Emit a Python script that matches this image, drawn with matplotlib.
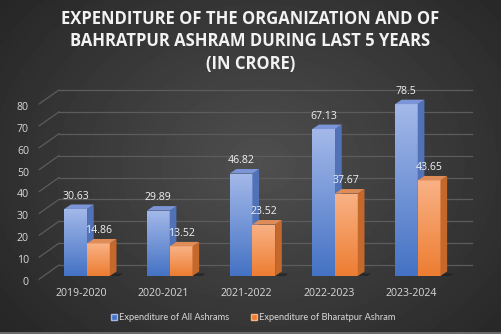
import matplotlib.pyplot as plt
import numpy as np
from matplotlib.colors import LinearSegmentedColormap
from matplotlib.lines import Line2D
from matplotlib.patches import Polygon
from matplotlib.transforms import ScaledTranslation

plt.rcParams["font.family"] = ["Open Sans", "DejaVu Sans"]

YEARS = ["2019-2020", "2020-2021", "2021-2022", "2022-2023", "2023-2024"]
ALL_ASHRAMS = [30.63, 29.89, 46.82, 67.13, 78.5]
BHARATPUR = [14.86, 13.52, 23.52, 37.67, 43.65]
SERIES_NAMES = ["Expenditure of All Ashrams", "Expenditure of Bharatpur Ashram"]
TITLE_LINES = [
    "EXPENDITURE OF THE ORGANIZATION AND OF",
    "BAHRATPUR ASHRAM DURING LAST 5 YEARS",
    "(IN CRORE)",
]
Y_TICKS = [0, 10, 20, 30, 40, 50, 60, 70, 80]

BLUE = {"front": ("#4472c4", "#a4b9e9"), "side": "#5272b8", "top": "#7b95d8"}
ORANGE = {"front": ("#ed7d31", "#f9b286"), "side": "#c4682c", "top": "#e08c58"}
TEXT_COLOR = "#d9d9d9"
GRID_COLOR = "#5c5c5c"

W, H = 501, 334
BAR_W = 0.275
DX, DY = 0.081, 2.05        # bar depth in data units
BACK_DX, BACK_DY = 0.23, 5.0  # back wall offset

fig = plt.figure(figsize=(W / 100, H / 100), dpi=100)

# radial dark background
bg = fig.add_axes([0, 0, 1, 1], zorder=-10)
yy, xx = np.mgrid[0:H, 0:W]
r = np.sqrt(((xx - 260) / 330) ** 2 + ((yy - 165) / 260) ** 2)
shade = np.clip(0.31 - 0.16 * r, 0.14, 0.31)
bg.imshow(shade, cmap="gray", vmin=0, vmax=1, extent=[0, W, H, 0], aspect="auto")
bg.plot([0, W], [H - 1.5, H - 1.5], color="#6a6a6a", lw=1.5)
bg.set_xlim(0, W)
bg.set_ylim(H, 0)
bg.axis("off")

ax = fig.add_axes([40 / W, (H - 276) / H, 435 / W, 197 / H])
ax.set_xlim(-0.569, 4.693)
ax.set_ylim(0, 90)
ax.patch.set_alpha(0)
for s in ax.spines.values():
    s.set_visible(False)

# back wall gridlines with slanted side stubs
x_left = ax.get_xlim()[0]
for v in Y_TICKS:
    ax.plot([x_left - 0.01, x_left + BACK_DX], [v - 1.4, v + BACK_DY],
            color=GRID_COLOR, lw=0.9, clip_on=False, zorder=1)
    ax.plot([x_left + BACK_DX, 4.66], [v + BACK_DY, v + BACK_DY],
            color=GRID_COLOR, lw=0.9, clip_on=False, zorder=1)

x = np.arange(len(YEARS))


def draw_series(values, offset, style):
    cmap = LinearSegmentedColormap.from_list("g", list(style["front"]))
    grad = np.linspace(0, 1, 256).reshape(-1, 1)
    bars = ax.bar(x + offset, values, width=BAR_W, align="edge",
                  color="none", zorder=3)
    for rect, val in zip(bars, values):
        x0 = rect.get_x()
        x1 = x0 + rect.get_width()
        h = rect.get_height()
        # floor shadow
        ax.add_patch(Polygon([(x0 + 0.05, 0), (x1 + 0.12, 0), (x1 + 0.16, 1.2),
                              (x0 + 0.12, 1.2)], closed=True,
                             facecolor="#1c1c1c", alpha=0.6, lw=0, zorder=2))
        im = ax.imshow(grad, cmap=cmap, extent=[x0, x1, 0, h], origin="lower",
                       aspect="auto", zorder=4)
        im.set_clip_path(rect)
        ax.add_patch(Polygon([(x1, 0), (x1 + DX, DY), (x1 + DX, h + DY), (x1, h)],
                             closed=True, facecolor=style["side"], lw=0, zorder=4))
        ax.add_patch(Polygon([(x0, h), (x0 + DX, h + DY), (x1 + DX, h + DY), (x1, h)],
                             closed=True, facecolor=style["top"], lw=0, zorder=4))
        ax.text((x0 + x1) / 2, h + DY + 1.3, f"{val:g}", ha="center", va="bottom",
                fontsize=7.6, color="#f2f2f2", zorder=5)
    ax.set_xlim(-0.569, 4.693)
    ax.set_ylim(0, 90)


draw_series(ALL_ASHRAMS, -BAR_W, BLUE)
draw_series(BHARATPUR, 0.0, ORANGE)

ax.set_yticks(Y_TICKS)
ax.set_yticklabels([str(v) for v in Y_TICKS])
ax.set_xticks(x)
ax.set_xticklabels(YEARS)
ax.tick_params(axis="both", length=0, colors=TEXT_COLOR, labelsize=7.6)
ax.tick_params(axis="y", pad=8)
ax.tick_params(axis="x", pad=9)
for lab in ax.get_yticklabels():
    lab.set_transform(lab.get_transform() + ScaledTranslation(0, -5 / 100, fig.dpi_scale_trans))
for lab in ax.get_xticklabels():
    lab.set_transform(lab.get_transform() + ScaledTranslation(-6 / 100, 0, fig.dpi_scale_trans))

for i, line in enumerate(TITLE_LINES):
    fig.text(0.5, 1 - (19.5 + 22 * i) / H, line, ha="center", va="center",
             fontsize=12, fontweight="bold", color="#f2f2f2")

handles = [
    Line2D([0], [0], marker="s", linestyle="none", markersize=4,
           markerfacecolor=BLUE["front"][0], markeredgecolor=BLUE["front"][1]),
    Line2D([0], [0], marker="s", linestyle="none", markersize=4,
           markerfacecolor=ORANGE["front"][0], markeredgecolor=ORANGE["front"][1]),
]
leg = fig.legend(handles, SERIES_NAMES, loc="center", bbox_to_anchor=(0.506, 1 - 318 / H),
                 ncol=2, frameon=False, prop={"family": "Lato", "size": 6.7},
                 labelcolor=TEXT_COLOR, handlelength=0.6, handletextpad=0.3,
                 columnspacing=2.3)

fig.savefig("out.png", dpi=100)
